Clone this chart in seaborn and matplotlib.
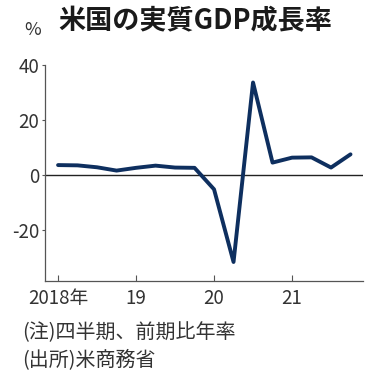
import numpy as np
import pandas as pd
import matplotlib
matplotlib.use("Agg")
import matplotlib.pyplot as plt
import seaborn as sns

# 四半期ごとの実質GDP成長率（前期比年率, %）
quarters = ["2018Q1", "2018Q2", "2018Q3", "2018Q4",
            "2019Q1", "2019Q2", "2019Q3", "2019Q4",
            "2020Q1", "2020Q2", "2020Q3", "2020Q4",
            "2021Q1", "2021Q2", "2021Q3", "2021Q4"]
growth = [3.6, 3.5, 2.8, 1.6,
          2.6, 3.4, 2.7, 2.6,
          -5.2, -31.6, 33.6, 4.5,
          6.3, 6.4, 2.7, 7.5]
year_ticks = [0, 4, 8, 12]
year_labels = ["2018年", "19", "20", "21"]
y_ticks = [-20, 0, 20, 40]
y_labels = ["-20", "0", "20", "40"]

df = pd.DataFrame({"q": np.arange(len(quarters)), "growth": growth})

sns.set_style("ticks")
plt.rcParams["font.family"] = ["Noto Sans CJK JP", "DejaVu Sans"]
plt.rcParams["axes.unicode_minus"] = False

fig = plt.figure(figsize=(3.75, 3.86), dpi=100)
ax = fig.add_axes([0.12, 0.272, 0.848, 0.560])

ax.axhline(0, color="#222222", lw=1.0, zorder=1)
sns.lineplot(data=df, x="q", y="growth", ax=ax, color="#0e2f5f", lw=2.8, zorder=3)

ax.set_xlim(-0.67, 15.64)
ax.set_ylim(-38.5, 40)
ax.set_xticks(year_ticks)
ax.set_xticklabels(year_labels)
ax.set_yticks(y_ticks)
ax.set_yticklabels(y_labels)
ax.set_xlabel("")
ax.set_ylabel("")

ax.tick_params(axis="x", direction="in", length=4, width=0.8, color="#555555",
               labelsize=13.5, pad=5, colors="#333333")
ax.tick_params(axis="y", direction="out", length=2.5, width=0.8, color="#555555",
               labelsize=13.5, pad=1.5, colors="#333333")

for s in ["top", "right"]:
    ax.spines[s].set_visible(False)
for s in ["left", "bottom"]:
    ax.spines[s].set_color("#555555")
    ax.spines[s].set_linewidth(0.9)

fig.text(0.155, 0.944, "米国の実質GDP成長率", fontsize=19.5, fontweight="bold",
         color="#1a1a1a", ha="left", va="center")
fig.text(0.064, 0.922, "%", fontsize=13, color="#333333", ha="left", va="center")
fig.text(0.059, 0.137, "(注)四半期、前期比年率", fontsize=14.4, color="#333333",
         ha="left", va="center")
fig.text(0.059, 0.065, "(出所)米商務省", fontsize=14.4, color="#333333",
         ha="left", va="center")

fig.savefig("out.png", dpi=100)
